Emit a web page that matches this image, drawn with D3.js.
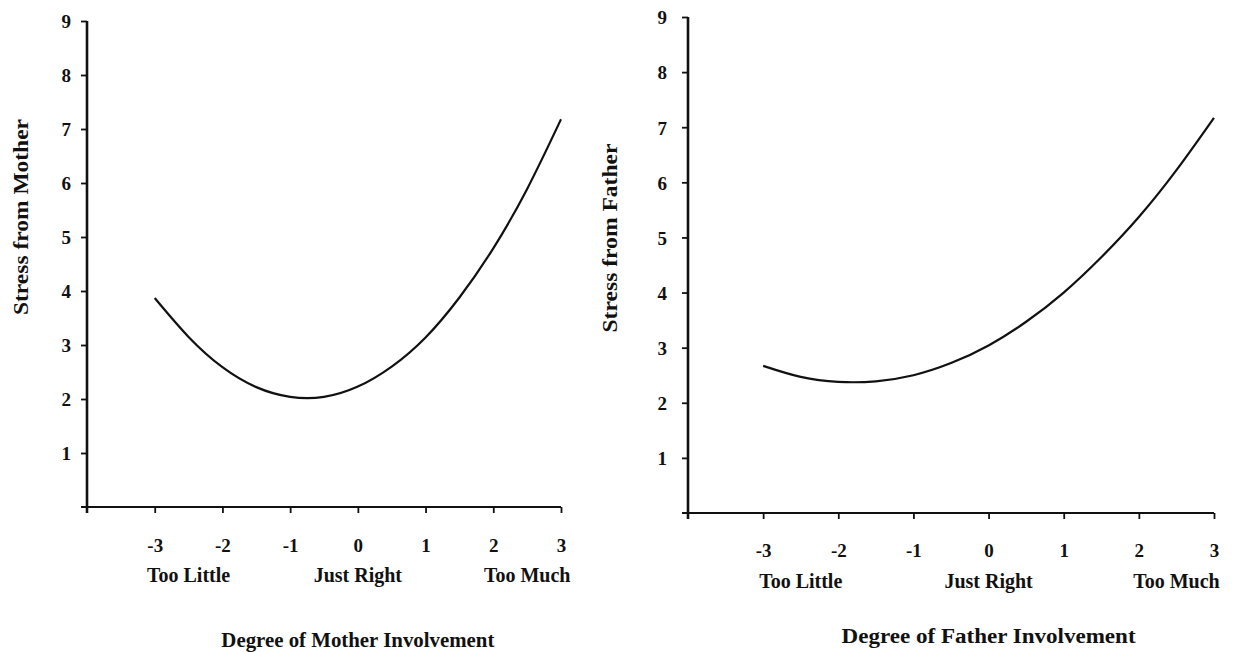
<!DOCTYPE html>
<html>
<head>
<meta charset="utf-8">
<script src="https://cdn.jsdelivr.net/npm/d3@7"></script>
<style>
  body { margin: 0; background: #fff; }
  svg { display: block; }
  text { font-family: "Liberation Serif", "Times New Roman", serif; font-weight: bold; fill: #111; }
</style>
</head>
<body>
<svg id="chart" width="1233" height="652"></svg>
<script>
// involvement levels
const involvement = [-3, -2.5, -2, -1.5, -1, -0.5, 0, 0.5, 1, 1.5, 2, 2.5, 3];
const motherStress = [3.87, 3.15, 2.59, 2.22, 2.04, 2.04, 2.23, 2.6, 3.14, 3.88, 4.79, 5.89, 7.18];
const fatherStress = [2.67, 2.47, 2.38, 2.39, 2.5, 2.72, 3.04, 3.47, 4.0, 4.64, 5.37, 6.22, 7.17];
const xTicks = [-3, -2, -1, 0, 1, 2, 3];
const yTicks = [1, 2, 3, 4, 5, 6, 7, 8, 9];
const anchorLabels = ['Too Little', 'Just Right', 'Too Much'];
const anchorPos = [-2.5, 0, 2.5];

const svg = d3.select('#chart');

const panels = [
  {values: motherStress, yTitle: 'Stress from Mother', xTitle: 'Degree of Mother Involvement',
   left: 87, right: 561, top: 21, bottom: 507, yLabelGap: 16, tickY: 552, catY: 582, titleY: 647,
   yTitleX: 28, yTitleMid: 217, yTitleLen: 196, xTitleLen: 273},
  {values: fatherStress, yTitle: 'Stress from Father', xTitle: 'Degree of Father Involvement',
   left: 688, right: 1214, top: 17, bottom: 513, yLabelGap: 21, tickY: 557, catY: 588, titleY: 643,
   yTitleX: 617, yTitleMid: 238, yTitleLen: 189, xTitleLen: 294}
];

panels.forEach(p => {
  const x = d3.scaleLinear().domain([-4, 3]).range([p.left, p.right]);
  const y = d3.scaleLinear().domain([0, 9]).range([p.bottom, p.top]);
  const g = svg.append('g');

  // axis lines, crossing a little at the origin
  g.append('line')
    .attr('x1', x(-4)).attr('x2', x(-4))
    .attr('y1', y(9)).attr('y2', y(0) + 6)
    .attr('stroke', '#111').attr('stroke-width', 2.6);
  g.append('line')
    .attr('x1', x(-4) - 6).attr('x2', x(3))
    .attr('y1', y(0)).attr('y2', y(0))
    .attr('stroke', '#111').attr('stroke-width', 2.2);

  const yAxis = g.append('g')
    .attr('transform', `translate(${x(-4)},0)`)
    .call(d3.axisLeft(y).tickValues(yTicks).tickSize(6).tickSizeOuter(0)
      .tickPadding(p.yLabelGap - 6).tickFormat(d => String(d)));
  yAxis.select('.domain').remove();
  yAxis.selectAll('line').attr('stroke', '#111').attr('stroke-width', 1.8);
  yAxis.selectAll('text').style('font-size', '19px').attr('dy', '0.36em').attr('fill', '#111');

  const xAxis = g.append('g')
    .attr('transform', `translate(0,${y(0)})`)
    .call(d3.axisBottom(x).tickValues(xTicks).tickSize(6).tickSizeOuter(0)
      .tickFormat(d => String(d)));
  xAxis.select('.domain').remove();
  xAxis.selectAll('line').attr('stroke', '#111').attr('stroke-width', 1.8);
  xAxis.selectAll('text').style('font-size', '19px').attr('fill', '#111')
    .attr('dy', null).attr('y', p.tickY - y(0));

  g.selectAll('.cat')
    .data(anchorLabels)
    .join('text')
    .attr('class', 'cat')
    .attr('x', (d, i) => x(anchorPos[i]))
    .attr('y', p.catY)
    .attr('text-anchor', 'middle')
    .style('font-size', '20px')
    .text(d => d);

  g.append('text')
    .attr('x', x(0))
    .attr('y', p.titleY)
    .attr('text-anchor', 'middle')
    .attr('textLength', p.xTitleLen)
    .attr('lengthAdjust', 'spacingAndGlyphs')
    .style('font-size', '20px')
    .text(p.xTitle);

  g.append('text')
    .attr('transform', `translate(${p.yTitleX},${p.yTitleMid}) rotate(-90)`)
    .attr('text-anchor', 'middle')
    .attr('textLength', p.yTitleLen)
    .attr('lengthAdjust', 'spacingAndGlyphs')
    .style('font-size', '20px')
    .text(p.yTitle);

  const line = d3.line()
    .x((d, i) => x(involvement[i]))
    .y(d => y(d))
    .curve(d3.curveNatural);

  g.append('path')
    .datum(p.values)
    .attr('d', line)
    .attr('fill', 'none')
    .attr('stroke', '#111')
    .attr('stroke-width', 2.2);
});
</script>
</body>
</html>
